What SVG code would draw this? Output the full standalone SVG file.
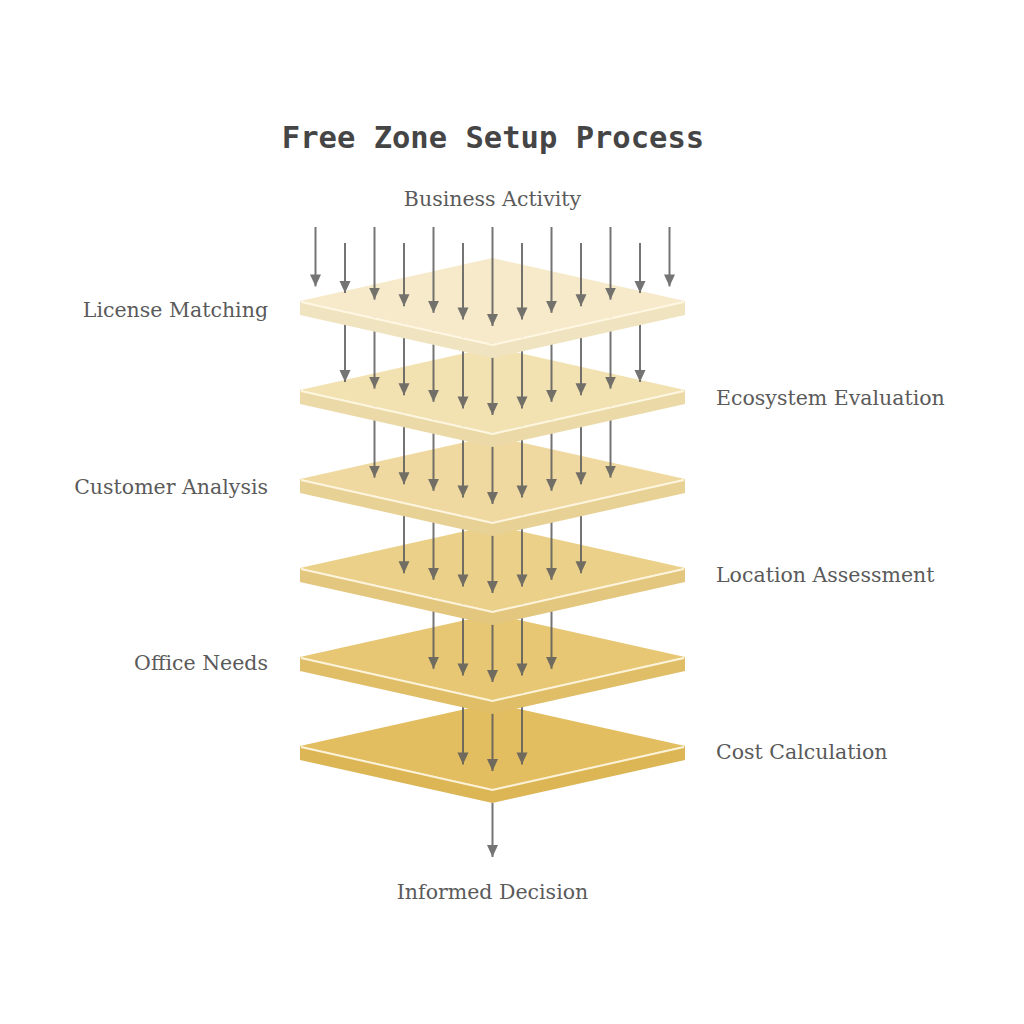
<svg xmlns="http://www.w3.org/2000/svg" width="1024" height="1024" viewBox="0 0 1024 1024">
<style>
.title{font-family:"DejaVu Sans Mono","Liberation Mono",monospace;font-weight:bold;font-size:30.5px;fill:#454545}
.lbl{font-family:"DejaVu Serif","Liberation Serif",serif;font-size:20.5px;fill:#5a5a5a}
.arr{stroke:#5c5c5c;stroke-width:2;opacity:0.85;marker-end:url(#ah)}
.hl{fill:none;stroke:#fff8e6;stroke-width:2;stroke-opacity:0.9}
</style>
<defs>
<marker id="ah" markerUnits="userSpaceOnUse" markerWidth="12" markerHeight="12" viewBox="0 0 12 12" refX="12" refY="6" orient="auto">
<path d="M0,0.5 L12,6 L0,11.5 Z" fill="#5c5c5c"/>
</marker>
</defs>
<rect width="1024" height="1024" fill="#fff"/>
<text class="title" x="493" y="148" text-anchor="middle">Free Zone Setup Process</text>
<g id="connectors">
<line class="arr" x1="492.5" y1="803" x2="492.5" y2="857"/>
</g>
<g id="layer6">
<path d="M300,746 L492.5,789 L685,746 L685,760 L492.5,803 L300,760 Z" fill="#dcb555"/>
<path d="M300,746 L492.5,703 L685,746 L492.5,789 Z" fill="#e3be60"/>
<polyline class="hl" points="301,747 492.5,790 684,747"/>
</g>
<g id="arrows6">
<line class="arr" x1="463" y1="657" x2="463" y2="764.4"/>
<line class="arr" x1="492.5" y1="657" x2="492.5" y2="771"/>
<line class="arr" x1="522" y1="657" x2="522" y2="764.4"/>
</g>
<g id="layer5">
<path d="M300,657 L492.5,700 L685,657 L685,671 L492.5,714 L300,671 Z" fill="#e0be68"/>
<path d="M300,657 L492.5,614 L685,657 L492.5,700 Z" fill="#e7c774"/>
<polyline class="hl" points="301,658 492.5,701 684,658"/>
</g>
<g id="arrows5">
<line class="arr" x1="433.5" y1="568" x2="433.5" y2="668.8"/>
<line class="arr" x1="463" y1="568" x2="463" y2="675.4"/>
<line class="arr" x1="492.5" y1="568" x2="492.5" y2="682"/>
<line class="arr" x1="522" y1="568" x2="522" y2="675.4"/>
<line class="arr" x1="551.5" y1="568" x2="551.5" y2="668.8"/>
</g>
<g id="layer4">
<path d="M300,568 L492.5,611 L685,568 L685,582 L492.5,625 L300,582 Z" fill="#e4c77f"/>
<path d="M300,568 L492.5,525 L685,568 L492.5,611 Z" fill="#ebd08a"/>
<polyline class="hl" points="301,569 492.5,612 684,569"/>
</g>
<g id="arrows4">
<line class="arr" x1="404" y1="479" x2="404" y2="573.2"/>
<line class="arr" x1="433.5" y1="479" x2="433.5" y2="579.8"/>
<line class="arr" x1="463" y1="479" x2="463" y2="586.4"/>
<line class="arr" x1="492.5" y1="479" x2="492.5" y2="593"/>
<line class="arr" x1="522" y1="479" x2="522" y2="586.4"/>
<line class="arr" x1="551.5" y1="479" x2="551.5" y2="579.8"/>
<line class="arr" x1="581" y1="479" x2="581" y2="573.2"/>
</g>
<g id="layer3">
<path d="M300,479 L492.5,522 L685,479 L685,493 L492.5,536 L300,493 Z" fill="#e8d195"/>
<path d="M300,479 L492.5,436 L685,479 L492.5,522 Z" fill="#efd9a0"/>
<polyline class="hl" points="301,480 492.5,523 684,480"/>
</g>
<g id="arrows3">
<line class="arr" x1="374.5" y1="390" x2="374.5" y2="477.6"/>
<line class="arr" x1="404" y1="390" x2="404" y2="484.2"/>
<line class="arr" x1="433.5" y1="390" x2="433.5" y2="490.8"/>
<line class="arr" x1="463" y1="390" x2="463" y2="497.4"/>
<line class="arr" x1="492.5" y1="390" x2="492.5" y2="504"/>
<line class="arr" x1="522" y1="390" x2="522" y2="497.4"/>
<line class="arr" x1="551.5" y1="390" x2="551.5" y2="490.8"/>
<line class="arr" x1="581" y1="390" x2="581" y2="484.2"/>
<line class="arr" x1="610.5" y1="390" x2="610.5" y2="477.6"/>
</g>
<g id="layer2">
<path d="M300,390 L492.5,433 L685,390 L685,404 L492.5,447 L300,404 Z" fill="#ebdaa7"/>
<path d="M300,390 L492.5,347 L685,390 L492.5,433 Z" fill="#f2e2b2"/>
<polyline class="hl" points="301,391 492.5,434 684,391"/>
</g>
<g id="arrows2">
<line class="arr" x1="345" y1="301" x2="345" y2="382"/>
<line class="arr" x1="374.5" y1="301" x2="374.5" y2="388.6"/>
<line class="arr" x1="404" y1="301" x2="404" y2="395.2"/>
<line class="arr" x1="433.5" y1="301" x2="433.5" y2="401.8"/>
<line class="arr" x1="463" y1="301" x2="463" y2="408.4"/>
<line class="arr" x1="492.5" y1="301" x2="492.5" y2="415"/>
<line class="arr" x1="522" y1="301" x2="522" y2="408.4"/>
<line class="arr" x1="551.5" y1="301" x2="551.5" y2="401.8"/>
<line class="arr" x1="581" y1="301" x2="581" y2="395.2"/>
<line class="arr" x1="610.5" y1="301" x2="610.5" y2="388.6"/>
<line class="arr" x1="640" y1="301" x2="640" y2="382"/>
</g>
<g id="layer1">
<path d="M300,301 L492.5,344 L685,301 L685,315 L492.5,358 L300,315 Z" fill="#f0e3bf"/>
<path d="M300,301 L492.5,258 L685,301 L492.5,344 Z" fill="#f6eaca"/>
<polyline class="hl" points="301,302 492.5,345 684,302"/>
</g>
<g id="arrows1">
<line class="arr" x1="315.5" y1="227" x2="315.5" y2="286.4"/>
<line class="arr" x1="345" y1="243" x2="345" y2="293"/>
<line class="arr" x1="374.5" y1="227" x2="374.5" y2="299.6"/>
<line class="arr" x1="404" y1="243" x2="404" y2="306.2"/>
<line class="arr" x1="433.5" y1="227" x2="433.5" y2="312.8"/>
<line class="arr" x1="463" y1="243" x2="463" y2="319.4"/>
<line class="arr" x1="492.5" y1="227" x2="492.5" y2="326"/>
<line class="arr" x1="522" y1="243" x2="522" y2="319.4"/>
<line class="arr" x1="551.5" y1="227" x2="551.5" y2="312.8"/>
<line class="arr" x1="581" y1="243" x2="581" y2="306.2"/>
<line class="arr" x1="610.5" y1="227" x2="610.5" y2="299.6"/>
<line class="arr" x1="640" y1="243" x2="640" y2="293"/>
<line class="arr" x1="669.5" y1="227" x2="669.5" y2="286.4"/>
</g>
<g id="labels">
<text class="lbl" x="492.5" y="206" text-anchor="middle">Business Activity</text>
<text class="lbl" x="268" y="317" text-anchor="end">License Matching</text>
<text class="lbl" x="716" y="405">Ecosystem Evaluation</text>
<text class="lbl" x="268" y="494" text-anchor="end">Customer Analysis</text>
<text class="lbl" x="716" y="582">Location Assessment</text>
<text class="lbl" x="268" y="670" text-anchor="end">Office Needs</text>
<text class="lbl" x="716" y="759">Cost Calculation</text>
<text class="lbl" x="492.5" y="899" text-anchor="middle">Informed Decision</text>
</g>
</svg>
